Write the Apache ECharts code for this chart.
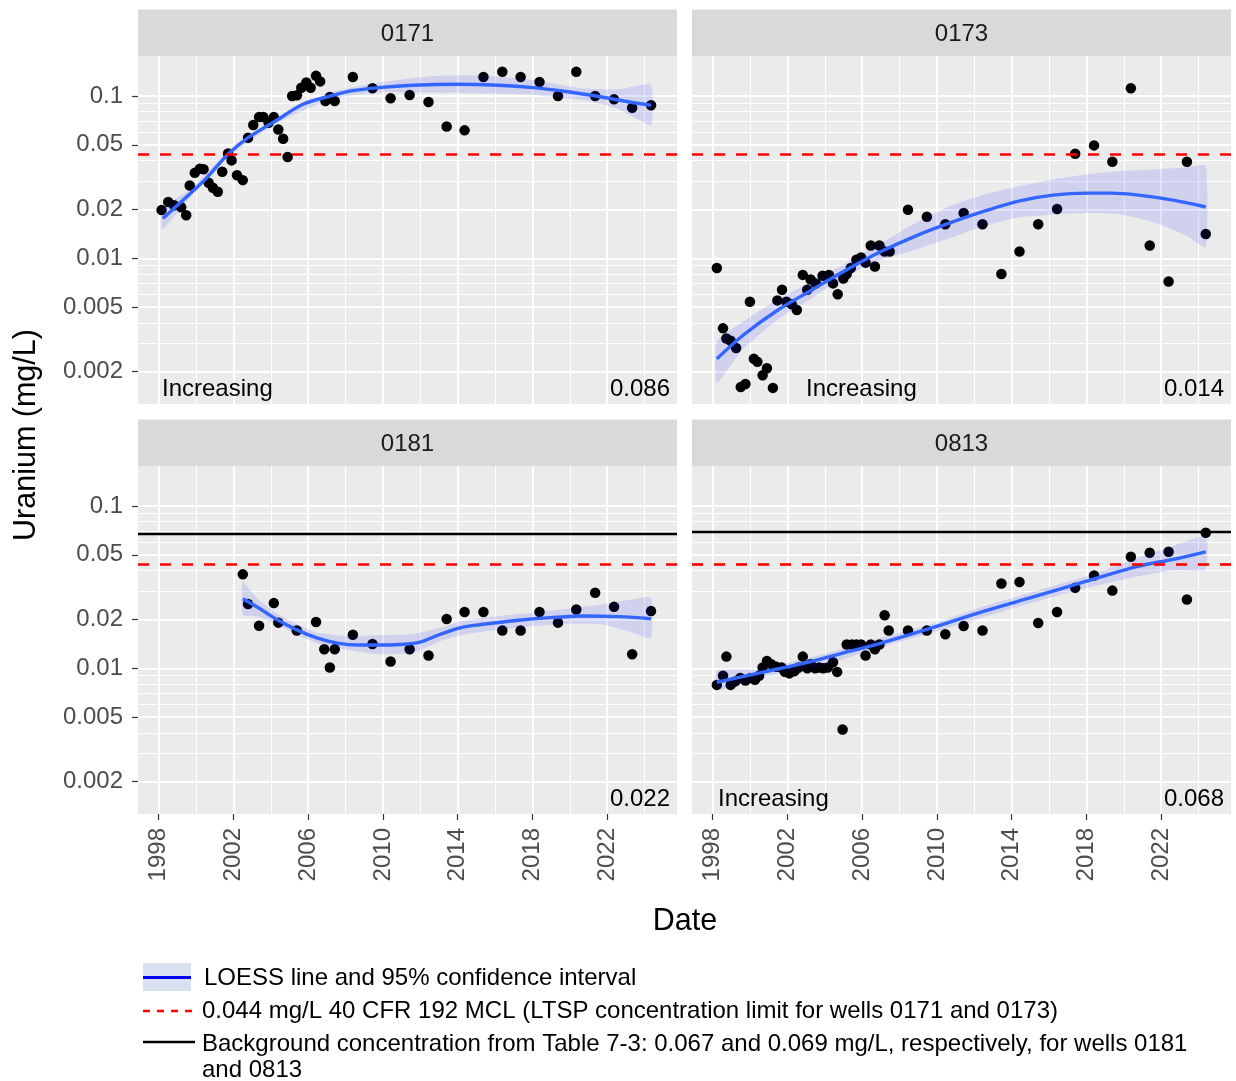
<!DOCTYPE html>
<html><head><meta charset="utf-8">
<script src="https://cdn.jsdelivr.net/npm/echarts@6/dist/echarts.min.js"></script>
<style>html,body{margin:0;padding:0;background:#fff}#c{width:1236px;height:1081px}</style>
</head><body><div id="c"></div>
<script>
// ---------------- data ----------------
const wells = ['0171', '0173', '0181', '0813'];
const trendText = ['Increasing', 'Increasing', '', 'Increasing'];
const statText = ['0.086', '0.014', '0.022', '0.068'];
const yTickValues = [0.002, 0.005, 0.01, 0.02, 0.05, 0.1];
const yTickLabels = ['0.002', '0.005', '0.01', '0.02', '0.05', '0.1'];
const yMinorValues = [0.003, 0.004, 0.006, 0.007, 0.008, 0.009, 0.03, 0.04, 0.06, 0.07, 0.08, 0.09];
const xTickValues = [1998, 2002, 2006, 2010, 2014, 2018, 2022];
const xMinorValues = [2000, 2004, 2008, 2012, 2016, 2020, 2024];
const xRange = [1996.89, 2025.74];
const yRange = [0.001265, 0.1763];
const mclLimit = 0.044;
const backgroundConc = [null, null, 0.067, 0.069];

const pts0171 = [[1998.15,0.0198],[1998.51,0.0222],[1998.82,0.0212],[1999.2,0.0206],[1999.47,0.0184],
[1999.66,0.0281],[1999.93,0.0336],[2000.2,0.0356],[2000.4,0.0354],[2000.67,0.0292],[2000.9,0.0272],
[2001.16,0.0257],[2001.4,0.0341],[2001.71,0.0442],[2001.9,0.0401],[2002.19,0.0325],[2002.5,0.0303],
[2002.78,0.0553],[2003.06,0.0662],[2003.37,0.0741],[2003.6,0.0741],[2003.88,0.0684],[2004.16,0.0741],
[2004.4,0.0622],[2004.66,0.0545],[2004.9,0.0421],[2005.14,0.1],[2005.4,0.101],[2005.63,0.1125],
[2005.9,0.121],[2006.13,0.1125],[2006.42,0.133],[2006.64,0.123],[2006.92,0.093],[2007.16,0.0986],
[2007.42,0.093],[2008.39,0.131],[2009.44,0.1115],[2010.41,0.0967],[2011.43,0.1014],[2012.44,0.0918],
[2013.41,0.0648],[2014.37,0.0614],[2015.38,0.131],[2016.39,0.141],[2017.37,0.131],[2018.38,0.122],
[2019.37,0.1],[2020.35,0.141],[2021.36,0.1],[2022.37,0.0953],[2023.34,0.0847],[2024.35,0.0876]];

const pts0173 = [[1998.22,0.0087],[1998.55,0.0037],[1998.73,0.0032],[1998.96,0.0031],[1999.25,0.0028],
[1999.5,0.00161],[1999.75,0.00168],[1999.99,0.0054],[2000.2,0.0024],[2000.39,0.0023],[2000.67,0.0019],
[2000.9,0.0021],[2001.22,0.00159],[2001.46,0.0055],[2001.71,0.0064],[2001.95,0.0054],[2002.23,0.0052],
[2002.5,0.0048],[2002.82,0.0079],[2003.06,0.0064],[2003.24,0.0074],[2003.52,0.0070],[2003.88,0.0078],
[2004.22,0.0079],[2004.44,0.0070],[2004.69,0.0060],[2004.99,0.0075],[2005.17,0.0080],[2005.39,0.0087],
[2005.69,0.0098],[2005.94,0.0101],[2006.18,0.0094],[2006.46,0.0120],[2006.68,0.0089],[2006.92,0.0120],
[2007.2,0.0110],[2007.47,0.0110],[2008.45,0.0199],[2009.46,0.0180],[2010.45,0.0162],[2011.43,0.0190],
[2012.44,0.0162],[2013.45,0.0080],[2014.42,0.0110],[2015.42,0.0162],[2016.43,0.0201],[2017.4,0.0441],
[2018.41,0.0496],[2019.39,0.0393],[2020.38,0.1115],[2021.39,0.0120],[2022.4,0.0072],[2023.38,0.0393],
[2024.39,0.0141]];

const pts0181 = [[2002.5,0.0379],[2002.78,0.0249],[2003.37,0.0183],[2004.16,0.0252],[2004.4,0.0191],
[2005.39,0.0171],[2006.42,0.0193],[2006.86,0.0131],[2007.42,0.0131],[2007.16,0.0101],[2008.39,0.0161],
[2009.44,0.0141],[2010.41,0.0110],[2011.43,0.0131],[2012.44,0.0120],[2013.41,0.0201],[2014.37,0.0222],
[2015.38,0.0222],[2016.39,0.0171],[2017.37,0.0171],[2018.38,0.0222],[2019.37,0.0191],[2020.35,0.0230],
[2021.36,0.0292],[2022.37,0.0239],[2023.34,0.0122],[2024.35,0.0225]];

const pts0813 = [[1998.22,0.0079],[1998.55,0.0090],[1998.73,0.0118],[1998.96,0.0079],[1999.2,0.0083],
[1999.47,0.0087],[1999.75,0.0084],[2000.02,0.0087],[2000.26,0.0085],[2000.48,0.0090],[2000.67,0.0101],
[2000.9,0.0111],[2001.13,0.0106],[2001.4,0.0102],[2001.68,0.0101],[2001.86,0.0095],[2002.1,0.0093],
[2002.38,0.0096],[2002.6,0.0101],[2002.82,0.0118],[2003.06,0.0100],[2003.24,0.0106],[2003.48,0.0100],
[2003.7,0.0101],[2003.92,0.0100],[2004.16,0.0101],[2004.44,0.0109],[2004.66,0.0095],[2004.95,0.0042],
[2005.17,0.0140],[2005.45,0.0140],[2005.69,0.0140],[2005.94,0.0140],[2006.18,0.0120],[2006.46,0.0140],
[2006.68,0.0131],[2006.92,0.0140],[2007.2,0.0212],[2007.42,0.0171],[2008.45,0.0171],[2009.46,0.0171],
[2010.45,0.0162],[2011.43,0.0182],[2012.44,0.0171],[2013.45,0.0333],[2014.42,0.0340],[2015.42,0.0190],
[2016.43,0.0222],[2017.4,0.0313],[2018.41,0.0373],[2019.39,0.0301],[2020.38,0.0487],[2021.39,0.0515],
[2022.4,0.0522],[2023.38,0.0265],[2024.39,0.0684]];

const loe0171 = [[1998.22,0.0176],[1999.66,0.0249],[2000.57,0.0313],[2001.71,0.0437],[2002.78,0.0553],
[2004.25,0.0701],[2005.72,0.0889],[2007.2,0.1],[2008.3,0.1074],[2009.77,0.1126],[2011.6,0.1164],
[2014.0,0.118],[2016.2,0.1164],[2018.05,0.1126],[2019.9,0.1062],[2021.7,0.0986],[2023.2,0.0918],[2024.35,0.0876]];
const loe0173 = [[1998.22,0.0024],[1999.66,0.00338],[2001.49,0.0048],[2003.33,0.0064],[2005.17,0.0085],
[2007.01,0.011],[2008.85,0.0137],[2010.69,0.0165],[2012.53,0.0195],[2014.37,0.0225],[2016.2,0.0245],
[2018.05,0.0252],[2019.33,0.0252],[2020.8,0.0245],[2022.64,0.0228],[2024.39,0.0207]];
const loe0181 = [[2002.5,0.0268],[2003.33,0.0236],[2004.25,0.0202],[2005.36,0.0173],[2006.46,0.0154],
[2007.56,0.0143],[2008.67,0.0139],[2009.77,0.0139],[2010.87,0.014],[2011.98,0.0145],[2013.08,0.0162],
[2014.18,0.0178],[2015.29,0.0186],[2017.13,0.0197],[2018.97,0.0205],[2020.8,0.021],[2022.64,0.0208],[2024.35,0.0202]];
const loe0813 = [[1998.22,0.0082],[2000.57,0.0094],[2002.97,0.0108],[2004.62,0.0121],[2007.01,0.0143],
[2009.77,0.0178],[2012.53,0.0225],[2015.29,0.0278],[2018.05,0.0345],[2020.8,0.0426],[2022.64,0.0469],[2024.39,0.0522]];

// [date, lower, upper]
const rib0171 = [[1998.22,0.0151,0.0205],[1999.66,0.0236,0.0264],[2001.71,0.042,0.0454],[2004.25,0.0675,0.0728],
[2007.2,0.0954,0.105],[2009.77,0.105,0.121],[2012.53,0.1045,0.1325],[2015.29,0.1035,0.134],[2018.05,0.1015,0.125],
[2020.8,0.094,0.111],[2022.64,0.0828,0.110],[2024.35,0.0662,0.117]];
const rib0173 = [[1998.22,0.0017,0.00308],[1999.66,0.0028,0.0041],[2001.49,0.0042,0.0056],[2003.33,0.0057,0.0072],
[2005.17,0.0078,0.0094],[2007.01,0.0098,0.0124],[2008.85,0.0113,0.0165],[2010.69,0.0133,0.021],[2012.53,0.0158,0.0247],
[2014.37,0.0178,0.0278],[2016.2,0.0186,0.0306],[2018.05,0.019,0.0329],[2019.88,0.0186,0.0345],[2021.72,0.0165,0.0353],
[2023.38,0.0137,0.0364],[2024.39,0.0117,0.037]];
const rib0181 = [[2002.5,0.0212,0.034],[2003.33,0.0208,0.0266],[2004.25,0.0188,0.022],[2005.36,0.0162,0.0188],
[2006.46,0.0143,0.0166],[2007.93,0.0131,0.0158],[2009.77,0.0122,0.016],[2011.61,0.0124,0.0162],[2013.08,0.0147,0.0178],
[2014.37,0.0162,0.0197],[2016.2,0.0173,0.021],[2018.05,0.0182,0.022],[2019.88,0.0188,0.0233],[2021.72,0.0186,0.0247],
[2023.38,0.0166,0.0266],[2024.35,0.0153,0.0274]];
const rib0813 = [[1998.22,0.0073,0.0097],[2000.57,0.0088,0.0099],[2004.25,0.0107,0.0125],[2007.01,0.0135,0.0154],
[2009.77,0.0166,0.0188],[2012.53,0.0207,0.0241],[2015.29,0.0257,0.0299],[2018.05,0.0313,0.037],[2020.8,0.037,0.048],
[2022.64,0.0401,0.0566],[2024.39,0.0406,0.0653]];

const legendLabels = [
  'LOESS line and 95% confidence interval',
  '0.044 mg/L 40 CFR 192 MCL (LTSP concentration limit for wells 0171 and 0173)',
  'Background concentration from Table 7-3: 0.067 and 0.069 mg/L, respectively, for wells 0181',
  'and 0813'
];

// ---------------- layout / style ----------------
const pointsByWell = [pts0171, pts0173, pts0181, pts0813];
const loessByWell = [loe0171, loe0173, loe0181, loe0813];
const ribbonByWell = [rib0171, rib0173, rib0181, rib0813];
const FONT = '"Liberation Sans", Arial, Helvetica, sans-serif';
const FS = 24, FT = 30.5;
const PW = 539, PH = 348;
const boxes = [{l:138,t:56},{l:692,t:56},{l:138,t:466},{l:692,t:466}];

const grids = [], xAxes = [], yAxes = [], series = [], graphics = [];

const gridLineData = []
  .concat(xMinorValues.map(v => ({xAxis: v, lineStyle: {color:'#fff', width:1, type:'solid'}})))
  .concat(xTickValues.map(v => ({xAxis: v, lineStyle: {color:'#fff', width:2, type:'solid'}})))
  .concat(yMinorValues.map(v => ({yAxis: v, lineStyle: {color:'#fff', width:1, type:'solid'}})))
  .concat(yTickValues.map(v => ({yAxis: v, lineStyle: {color:'#fff', width:2, type:'solid'}})));

const logTicks = yTickValues.map(v => Math.log10(v));
function yLabel(v) {
  for (let k = 0; k < logTicks.length; k++) if (Math.abs(logTicks[k] - v) < 1e-6) return yTickLabels[k];
  return '';
}

boxes.forEach((b, i) => {
  grids.push({left:b.l, top:b.t, width:PW, height:PH, show:true, backgroundColor:'#EBEBEB',
    borderWidth:0, containLabel:false, outerBoundsMode:'none'});
  const bottomRow = i >= 2, leftCol = i % 2 === 0;
  xAxes.push({type:'value', gridIndex:i, min:xRange[0], max:xRange[1],
    axisLine:{show:false}, splitLine:{show:false},
    axisTick:{show:bottomRow, customValues:xTickValues, length:6, lineStyle:{color:'#333333', width:1.2}},
    axisLabel:{show:bottomRow, customValues:xTickValues, rotate:90, margin:14, fontSize:FS,
      color:'#4D4D4D', fontFamily:FONT, formatter: v => String(v)}});
  // data axis (log)
  yAxes[i] = {type:'log', logBase:10, gridIndex:i, min:yRange[0], max:yRange[1], show:false};
  // label axis, same range in log10 space
  yAxes[4 + i] = {type:'value', gridIndex:i, position:'left', min:Math.log10(yRange[0]), max:Math.log10(yRange[1]),
    axisLine:{show:false}, splitLine:{show:false},
    axisTick:{show:leftCol, customValues:logTicks, length:6, lineStyle:{color:'#333333', width:1.2}},
    axisLabel:{show:leftCol, customValues:logTicks, margin:15, fontSize:FS, color:'#4D4D4D',
      fontFamily:FONT, formatter: yLabel, padding:[3,0,0,0]}};

  // grid lines
  series.push({type:'line', xAxisIndex:i, yAxisIndex:i, data:[], silent:true, showSymbol:false, z:1,
    markLine:{silent:true, z:1, precision:10, symbol:['none','none'], animation:false, label:{show:false},
      emphasis:{disabled:true}, data:gridLineData}});
  // points
  series.push({type:'scatter', xAxisIndex:i, yAxisIndex:i, data:pointsByWell[i], symbolSize:10.5,
    itemStyle:{color:'#000', opacity:1}, z:3, silent:true});
  // ribbon
  const rib = ribbonByWell[i];
  series.push({type:'custom', xAxisIndex:i, yAxisIndex:i, data:rib, encode:{x:0, y:[1,2]}, z:4, silent:true, clip:true,
    renderItem: (params, api) => {
      if (params.dataIndex !== 0) return null;
      const pts = [];
      for (let k = 0; k < rib.length; k++) pts.push(api.coord([rib[k][0], rib[k][2]]));
      for (let k = rib.length - 1; k >= 0; k--) pts.push(api.coord([rib[k][0], rib[k][1]]));
      return {type:'polygon', shape:{points:pts, smooth:0.15}, style:{fill:'rgba(20,30,255,0.12)'}};
    }});
  // loess line
  series.push({type:'line', xAxisIndex:i, yAxisIndex:i, data:loessByWell[i], smooth:0.35, showSymbol:false,
    lineStyle:{color:'#3366FF', width:3.4}, z:5, silent:true});
  // reference lines
  const refs = [{yAxis:mclLimit, lineStyle:{color:'#FF0000', width:2.6, type:[11,11]}}];
  if (backgroundConc[i] != null) refs.push({yAxis:backgroundConc[i], lineStyle:{color:'#000', width:2.4, type:'solid'}});
  series.push({type:'line', xAxisIndex:i, yAxisIndex:i, data:[], silent:true, showSymbol:false, z:6,
    markLine:{silent:true, z:6, precision:10, symbol:['none','none'], animation:false, label:{show:false},
      emphasis:{disabled:true}, data:refs}});

  // strip
  graphics.push({type:'rect', shape:{x:b.l, y:b.t - 46.5, width:PW, height:46.5}, style:{fill:'#D9D9D9'}, silent:true});
  graphics.push({type:'text', x:b.l + PW / 2, y:b.t - 22, silent:true,
    style:{text:wells[i], align:'center', verticalAlign:'middle', fontSize:FS, fill:'#1A1A1A', fontFamily:FONT}});
});

// panel annotations
const annoPos = [{tx:162, nx:670, y:389}, {tx:806, nx:1224, y:389}, {tx:162, nx:670, y:799}, {tx:718, nx:1224, y:799}];
annoPos.forEach((p, i) => {
  if (trendText[i]) graphics.push({type:'text', x:p.tx, y:p.y, z:100, silent:true,
    style:{text:trendText[i], align:'left', verticalAlign:'middle', fontSize:FS, fill:'#000', fontFamily:FONT}});
  graphics.push({type:'text', x:p.nx, y:p.y, z:100, silent:true,
    style:{text:statText[i], align:'right', verticalAlign:'middle', fontSize:FS, fill:'#000', fontFamily:FONT}});
});

// axis titles
graphics.push({type:'text', x:27, y:435, rotation:Math.PI / 2, silent:true,
  style:{text:'Uranium (mg/L)', align:'center', verticalAlign:'middle', fontSize:FT, fill:'#000', fontFamily:FONT}});
graphics.push({type:'text', x:685, y:922, silent:true,
  style:{text:'Date', align:'center', verticalAlign:'middle', fontSize:FT, fill:'#000', fontFamily:FONT}});

// legend
graphics.push({type:'rect', shape:{x:143, y:963, width:48, height:28}, style:{fill:'#D9E0F0'}, silent:true});
graphics.push({type:'line', shape:{x1:143, y1:977.5, x2:191, y2:977.5}, style:{stroke:'#0000FF', lineWidth:3}, silent:true});
graphics.push({type:'line', shape:{x1:143, y1:1011, x2:195, y2:1011}, style:{stroke:'#FF0000', lineWidth:2.6, lineDash:[7,7]}, silent:true});
graphics.push({type:'line', shape:{x1:143, y1:1042, x2:195, y2:1042}, style:{stroke:'#000', lineWidth:2.6}, silent:true});
const legY = [978, 1011, 1044, 1070];
const legX = [204, 202, 202, 202];
legendLabels.forEach((t, k) => graphics.push({type:'text', x:legX[k], y:legY[k], silent:true,
  style:{text:t, align:'left', verticalAlign:'middle', fontSize:FS, fill:'#000', fontFamily:FONT}}));

const chart = echarts.init(document.getElementById('c'), null, {renderer:'canvas', width:1236, height:1081});
chart.setOption({
  animation:false,
  backgroundColor:'#fff',
  grid:grids, xAxis:xAxes, yAxis:yAxes, series:series, graphic:graphics
});
</script></body></html>
